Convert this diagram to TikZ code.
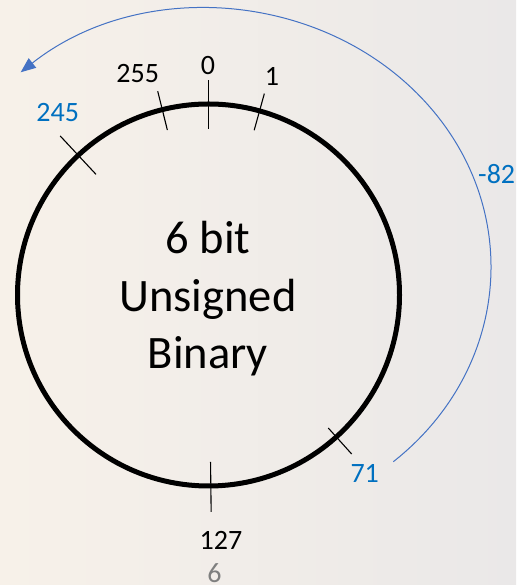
\documentclass[tikz,border=0pt]{standalone}
\usepackage{fontspec}
\setmainfont{Carlito}
\usetikzlibrary{arrows.meta}
\definecolor{labelblue}{RGB}{0,112,192}
\definecolor{arcblue}{RGB}{68,114,196}
\definecolor{notegray}{RGB}{127,127,127}
\definecolor{bgleft}{RGB}{247,241,233}
\definecolor{bgmid}{RGB}{243,238,237}
\definecolor{bgright}{RGB}{234,232,232}
\tikzset{
  dialring/.style={circle, draw=black, line width=5pt, minimum size=382pt, inner sep=0pt},
  tickmark/.style={draw=black, line width=1.1pt},
  valuelabel/.style={font=\fontsize{28}{34}\selectfont, inner sep=0pt, anchor=base},
  bluelabel/.style={valuelabel, text=labelblue},
  titletext/.style={font=\fontsize{46.5}{57.5}\selectfont, align=center, inner sep=0pt},
  wraparrow/.style={draw=arcblue, line width=1pt, -{Triangle[length=15pt, width=12pt]}}
}
\begin{document}
\begin{tikzpicture}[x=1pt, y=1pt]
  % page area and soft background
  \useasboundingbox (0,0) rectangle (516,585);
  \shade[left color=bgleft, middle color=bgmid, right color=bgright] (0,0) rectangle (516,585);

  % the number wheel
  \node[dialring] (dial) at (208.5,290) {};

  % tick marks around the wheel
  \begin{scope}[shift={(dial.center)}]
    \draw[tickmark] (90:166) -- (90:215);
    \draw[tickmark] (104:170) -- (104:210);
    \draw[tickmark] (74.5:171) -- (74.5:209);
    \draw[tickmark] (133:165) -- (133:217.5);
    \draw[tickmark] (-48:179) -- (-48:214);
    \draw[tickmark] (-89.3:167) -- (-89.3:217);
  \end{scope}

  % value labels
  \node[valuelabel] (lzero) at (208,510) {0};
  \node[valuelabel] (lmax) at (137.7,502.3) {255};
  \node[valuelabel] (lone) at (272,499) {1};
  \node[valuelabel] (lhalf) at (221,35) {127};
  \node[bluelabel] (lstart) at (57.7,463.3) {245};
  \node[bluelabel] (lend) at (364.7,102.3) {71};
  \node[bluelabel, anchor=base west] (lstep) at (478,401.7) {-82};
  \node[valuelabel, text=notegray] (lpage) at (214.5,2.5) {6};

  % title inside the wheel
  \node[titletext] (title) at (208,286) {6 bit\\Unsigned\\Binary};

  % wrap-around arrow
  \coordinate (arcc) at (207,318);
  \coordinate (arcfrom) at ([shift={(-49:284 and 258)}]arcc);
  \draw[wraparrow] (arcfrom) arc[start angle=-49, end angle=131, x radius=284, y radius=258];
\end{tikzpicture}
\end{document}
